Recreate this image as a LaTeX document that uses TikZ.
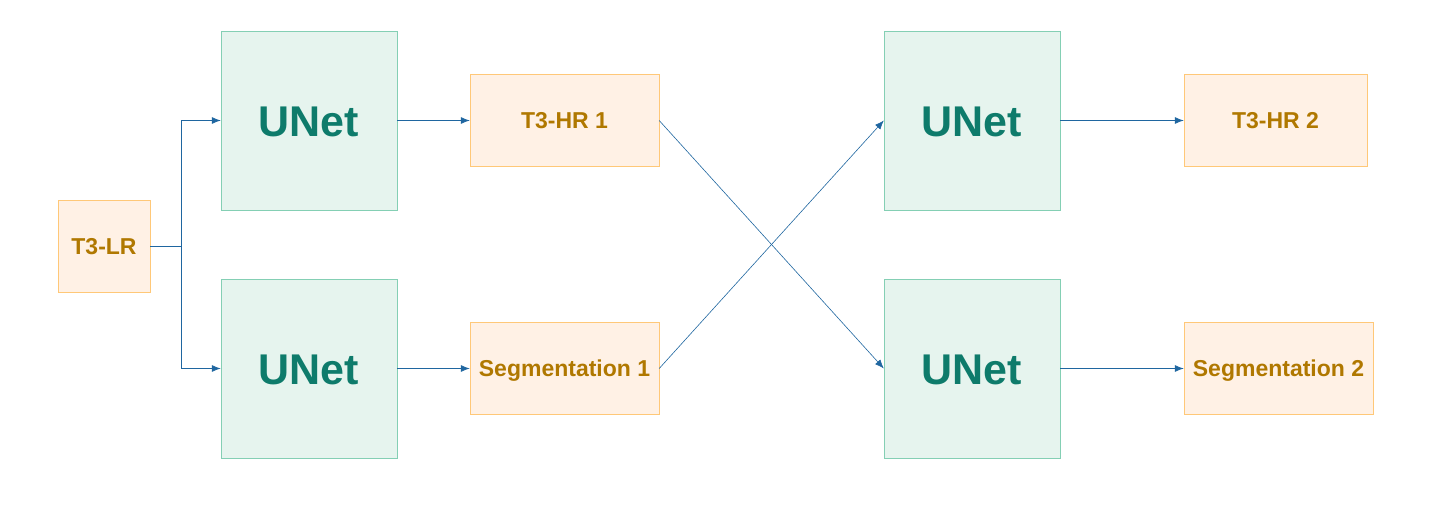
\documentclass[tikz,border=0pt]{standalone}
\usepackage{fontspec}
\setmainfont{Liberation Sans}
\usetikzlibrary{arrows.meta}
\definecolor{netfill}{HTML}{E6F4EE}
\definecolor{netline}{HTML}{84CFB4}
\definecolor{nettext}{HTML}{0E7B6B}
\definecolor{imgfill}{HTML}{FFF1E5}
\definecolor{imgline}{HTML}{FFC878}
\definecolor{imgtext}{HTML}{B07800}
\definecolor{linkblue}{HTML}{1F66A0}

\begin{document}
\begin{tikzpicture}[x=1pt, y=-1pt,
  netbox/.style={draw=netline, fill=netfill, text=nettext, minimum width=176pt, minimum height=179pt, inner sep=0pt, text height=31pt, text depth=0pt, font=\bfseries\fontsize{43}{43}\selectfont},
  imgbox/.style={draw=imgline, fill=imgfill, text=imgtext, minimum height=92pt, inner sep=0pt, text height=16.5pt, text depth=0pt, font=\bfseries\fontsize{23}{23}\selectfont},
  link/.style={draw=linkblue, line width=0.8pt, -{Latex[length=9pt,width=7pt]}}]
\useasboundingbox (0,0) rectangle (1432,525);
% inputs and networks
\node[imgbox, minimum width=92pt] (lr) at (104,246.5) {T3-LR};
\node[netbox] (net1) at (309,120.5) {UNet};
\node[netbox] (net2) at (309,368.5) {UNet};
\node[imgbox, minimum width=189pt] (hr1) at (564.5,120.5) {T3-HR 1};
\node[imgbox, minimum width=189pt] (seg1) at (564.5,368.5) {Segmentation 1};
\node[netbox] (net3) at (972,120.5) {UNet};
\node[netbox] (net4) at (972,368.5) {UNet};
\node[imgbox, minimum width=183pt] (hr2) at (1275.5,120.5) {T3-HR 2};
\node[imgbox, minimum width=189pt] (seg2) at (1278.5,368.5) {Segmentation 2};
% connectors
\coordinate (fork) at (181,246.5);
\draw[link] (lr.east) -- (fork) |- (net1.west);
\draw[link] (fork) |- (net2.west);
\draw[link] (net1) -- (hr1);
\draw[link] (net2) -- (seg1);
\draw[link, line width=0.6pt] (hr1.east) -- (net4.west);
\draw[link, line width=0.6pt] (seg1.east) -- (net3.west);
\draw[link] (net3) -- (hr2);
\draw[link] (net4) -- (seg2);
\end{tikzpicture}
\end{document}
